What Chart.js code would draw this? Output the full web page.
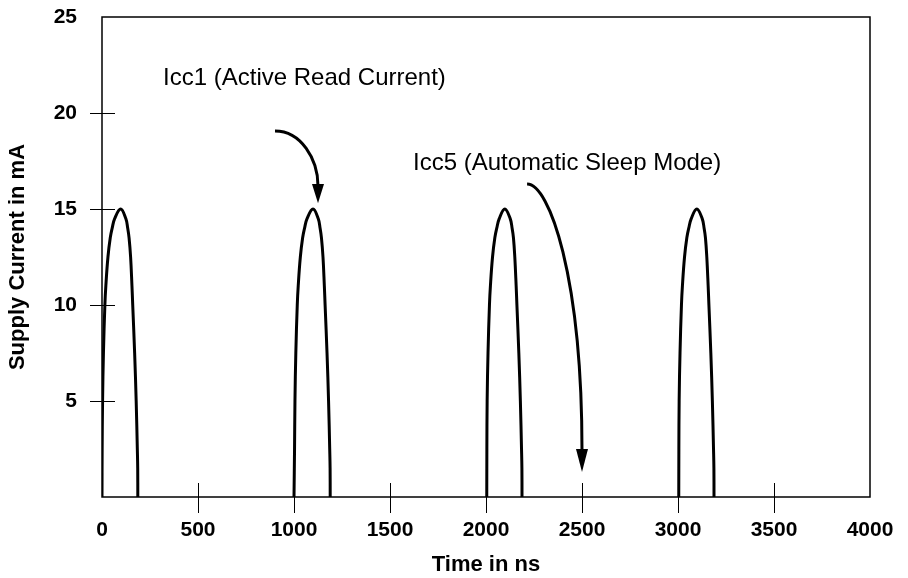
<!DOCTYPE html>
<html>
<head>
<meta charset="utf-8">
<script src="https://cdn.jsdelivr.net/npm/chart.js@4.4.1/dist/chart.umd.min.js"></script>
<style>
  html, body { margin: 0; padding: 0; background: #fff; }
  #wrap { width: 908px; height: 578px; }
</style>
</head>
<body>
<div id="wrap"><canvas id="currentChart" width="908" height="578"></canvas></div>
<script>
// current in mA along one read pulse
const pulseCurrent = [0, 2.5, 5, 7.5, 10, 11, 12.5, 13.5, 14, 14.5, 15, 14.5, 14, 13.5, 12.5, 11, 10, 7.5, 5, 2.5, 1.5, 0];
// time in ns for each pulse
const pulseTimes1 = [0, 0.8, 3, 7.5, 15, 20, 31, 43, 53, 66, 97, 124, 134, 141, 149, 156, 160, 170, 178, 184, 186, 186.5];
const pulseTimes2 = [1000, 1002.8, 1005, 1009.5, 1017, 1022, 1033, 1045, 1055, 1068, 1099, 1126, 1136, 1143, 1151, 1158, 1162, 1172, 1180, 1186, 1188, 1188.5];
const pulseTimes3 = [2004, 2004.5, 2006, 2010.5, 2018, 2023, 2034, 2046, 2056, 2069, 2098, 2126, 2136, 2143, 2150, 2157, 2161, 2171, 2179, 2185, 2187, 2187.5];
const pulseTimes4 = [3004, 3004.5, 3006, 3010.5, 3018, 3023, 3034, 3046, 3056, 3069, 3098, 3126, 3136, 3143, 3150, 3157, 3161, 3171, 3179, 3185, 3187, 3187.5];

const yTicks = [5, 10, 15, 20, 25];
const xTicks = [0, 500, 1000, 1500, 2000, 2500, 3000, 3500, 4000];

const noteTexts = ['Icc1 (Active Read Current)', 'Icc5 (Automatic Sleep Mode)'];

function toPoints(times) {
    return times.map((t, i) => ({ x: t, y: pulseCurrent[i] }));
}

const datasets = [pulseTimes1, pulseTimes2, pulseTimes3, pulseTimes4].map(times => ({
    data: toPoints(times),
    borderColor: '#000',
    borderWidth: 3,
    pointRadius: 0,
    tension: 0.4,
    fill: false
}));

// notes + arrows, given in axis units
const notes = [
    { text: noteTexts[0], at: [318, 21.8],
      path: [[901, 19.06], [1036, 19.06], [1125, 17.6], [1125, 16.2]], tip: [1125, 15.3] },
    { text: noteTexts[1], at: [1620, 17.4],
      path: [[2214, 16.3], [2330, 16.3], [2500, 11.5], [2500, 2.4]], tip: [2500, 1.3] }
];

const framePlugin = {
    id: 'frame',
    afterDraw(chart) {
        const { ctx, chartArea: a, scales } = chart;
        const x = scales.x, y = scales.y;
        ctx.save();
        ctx.strokeStyle = '#000';
        ctx.lineWidth = 1.5;
        ctx.strokeRect(a.left, a.top, a.right - a.left, a.bottom - a.top);

        // crossing tick marks
        ctx.lineWidth = 1;
        ctx.beginPath();
        yTicks.slice(0, -1).forEach(v => {
            const py = Math.round(y.getPixelForValue(v)) + 0.5;
            ctx.moveTo(a.left - 12, py);
            ctx.lineTo(a.left + 13, py);
        });
        xTicks.slice(1, -1).forEach(v => {
            const px = Math.round(x.getPixelForValue(v)) + 0.5;
            ctx.moveTo(px, a.bottom - 14);
            ctx.lineTo(px, a.bottom + 16);
        });
        ctx.stroke();

        // notes
        ctx.fillStyle = '#000';
        ctx.font = '24px "Liberation Sans", Arial, sans-serif';
        ctx.textBaseline = 'middle';
        ctx.textAlign = 'left';
        notes.forEach(n => {
            ctx.fillText(n.text, x.getPixelForValue(n.at[0]), y.getPixelForValue(n.at[1]));

            const p = n.path.map(q => [x.getPixelForValue(q[0]), y.getPixelForValue(q[1])]);
            ctx.lineWidth = 3;
            ctx.beginPath();
            ctx.moveTo(p[0][0], p[0][1]);
            ctx.bezierCurveTo(p[1][0], p[1][1], p[2][0], p[2][1], p[3][0], p[3][1]);
            ctx.stroke();

            const tx = x.getPixelForValue(n.tip[0]), ty = y.getPixelForValue(n.tip[1]);
            const ang = Math.atan2(ty - p[3][1], tx - p[3][0]);
            const len = Math.hypot(tx - p[3][0], ty - p[3][1]);
            ctx.save();
            ctx.translate(tx, ty);
            ctx.rotate(ang);
            ctx.beginPath();
            ctx.moveTo(0, 0);
            ctx.lineTo(-len - 2, -6);
            ctx.lineTo(-len - 2, 6);
            ctx.closePath();
            ctx.fill();
            ctx.restore();
        });
        ctx.restore();
    }
};

const fam = '"Liberation Sans", Arial, sans-serif';
const tickFont = { family: fam, size: 21, weight: 'bold' };
const titleFont = { family: fam, size: 22, weight: 'bold' };

new Chart(document.getElementById('currentChart').getContext('2d'), {
    type: 'line',
    data: { datasets },
    options: {
        responsive: false,
        animation: false,
        layout: { padding: { top: 17, right: 38, left: 0, bottom: 0 } },
        plugins: { legend: { display: false }, tooltip: { enabled: false } },
        scales: {
            x: {
                type: 'linear',
                min: 0, max: 4000,
                afterBuildTicks: s => { s.ticks = xTicks.map(v => ({ value: v })); },
                afterFit: s => { s.height = 81; s.paddingLeft = 0; s.paddingRight = 0; },
                grid: { display: false, drawTicks: false },
                border: { display: false },
                ticks: { color: '#000', font: tickFont, padding: 21, maxRotation: 0,
                         callback: v => String(v) },
                title: { display: true, text: 'Time in ns', color: '#000', font: titleFont,
                         padding: { top: 0, bottom: 0 } }
            },
            y: {
                min: 0, max: 25,
                afterBuildTicks: s => { s.ticks = yTicks.map(v => ({ value: v })); },
                afterFit: s => { s.width = 102; s.paddingTop = 0; s.paddingBottom = 0; },
                grid: { display: false, drawTicks: false },
                border: { display: false },
                ticks: { color: '#000', font: tickFont, padding: 25, callback: v => String(v) },
                title: { display: true, text: 'Supply Current in mA', color: '#000', font: titleFont,
                         padding: { top: 5, bottom: 0 } }
            }
        }
    },
    plugins: [framePlugin]
});
</script>
</body>
</html>
